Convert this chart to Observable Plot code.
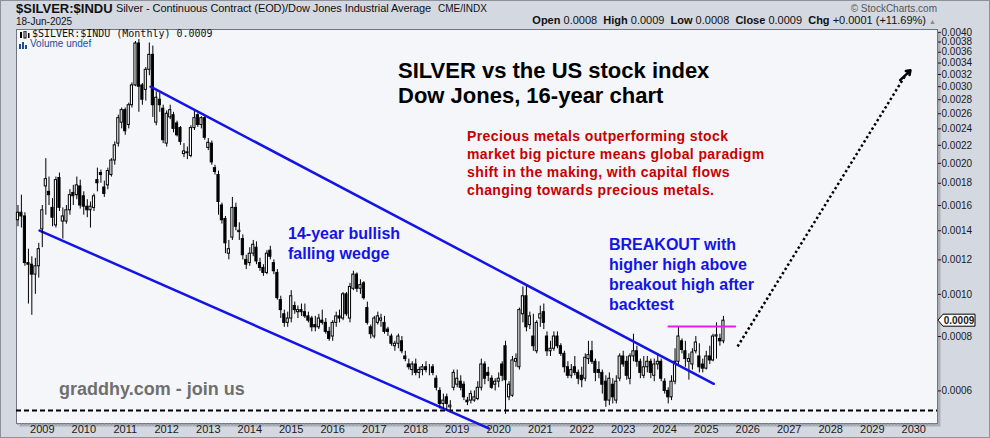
<!DOCTYPE html>
<html><head><meta charset="utf-8">
<script src="https://cdn.jsdelivr.net/npm/d3@7"></script>
<script src="https://cdn.jsdelivr.net/npm/@observablehq/plot@0.6"></script>
<style>
body{margin:0;background:#d3d8e1;}
#wrap{position:relative;width:990px;height:438px;overflow:hidden;background:#d3d8e1;font-family:"Liberation Sans",Arial,sans-serif;color:#111;box-shadow:inset 0 0 0 1px #8c919a;}
#wrap > svg{position:absolute;left:0;top:0;}
.t{position:absolute;white-space:nowrap;}
</style></head><body><div id="wrap"></div>
<script>
// Monthly bars of $SILVER:$INDU, starting June 2008; values in units of 1e-5
const unit = 1e-5;
const firstYear = 2008, firstMonthIndex = 5; // June 2008
const open = [
 148,154,151,118,117,111,116,
 141,177,172,158,144,185,147,147,156,171,169,177,
 168,159,156,158,183,190,176,178,188,203,222,248,
 265,245,272,302,377,302,295,328,355,248,280,267,
 222,255,258,247,241,210,211,208,241,258,245,254,
 217,222,195,188,160,149,124,135,158,139,134,120,
 118,124,128,118,115,112,126,118,112,97,90,86,
 88,94,91,92,91,89,88,85,84,87,86,82,
 80,86,89,88,100,88,103,111,103,106,93,84,
 80,86,87,86,83,80,76,77,78,72,69,67,
 69,66,67,68,67,68,64,60,56,58,55,61,
 62,63,62,57,57,57,57.5,61,69,66,64,62,
 63,69,76,58,58.5,70,68,90,99,85,80,74,
 88,91,80,74,75,80,76,73,68,65,68,66,
 65,64,71,74,70,67,66,63,57,62,57,64,
 72,70,64,72,74,70,65,68,70,65,69,70,
 63,60,58,63,70,78,74,70,69,74,72,69,
 67.5,72,70.5,80,79,78
];
const high = [
 160,169,154,127,122,121,131,
 160,205,186,166,186,190,158,160,174,178,186,183,
 172,165,163,170,195,193,182,195,205,224,258,268,
 268,275,306,381,385,305,332,378,372,292,290,272,
 264,272,262,250,243,222,218,244,265,260,256,256,
 228,225,198,192,162,151,133,167,162,146,137,123,
 128,133,132,121,117,126,129,120,114,99,92,91,
 102,96,94,95,95,91,89,89,90,92,88,84,
 87,91,92,101,101,106,113,112,108,107,96,85,
 89,91,90,89,84,81,78,81,80,74,71,70,
 71,68,69,70,69,69,65,61,59,59,57,67,
 67,65,63,58,60,60,63,71,70,68,65,64,
 66,70,78,63,72,73,93,104,105,91,90,87,
 94,95,82,78,82,82,77,74,70,69,72,67,
 68,73,78,78,71,70,67,65,66,64,65,73,
 74,72,73,81,76,71,72,72,71,71,73,71,
 64,61,65,75,84,79,78,73,75,80,77,71,
 74,76,81,86,81,89
];
const low = [
 143,142,116,95,89.5,100,109,
 128,152,160,143,142,155,134,145,152,160,165,157,
 152,150,142,155,172,180,167,174,186,198,218,240,
 232,240,268,300,262,272,278,318,255,244,262,222,
 218,252,235,230,220,206,204,206,238,242,240,226,
 214,198,188,152,145,124,120,133,140,133,120,114,
 116,122,117,113,110,111,120,111,97,88,84,84,
 86,90,88,89,88,86,82,82,83,85,81,78,
 78,84,86,87,89,86,102,101,100,97,85,79,
 79,85,84,81,80,76,74,75,73,70,67,65,
 65,64,65,66,65,65,60,54.5,54.5,54,53.5,60,
 61,60,57,55.5,56,56.5,57,60,62,63,60.5,60,
 61,63,53,57,58,68,67,86,82,83,74,73,
 84,83,72,72,74,75,72,66,64,64,65,62,
 61,63,69,69,63,64,59,55,55.5,56,56,63,
 68,63.5,62,70,68,64,64,66,64,63,67,63,
 59,56,57,62,69,73,68,63.5,67,73,66,66,
 67,69,70,71,76,77
];
const close = [
 154,151,118,117,111,116,127,
 156,184,169,150,183,158,151,156,169,168,178,160,
 159,156,159,168,180,188,170,192,203,220,254,265,
 237,272,302,377,300,280,328,355,272,283,272,226,
 260,265,240,232,224,213,212,241,254,245,254,229,
 223,201,191,163,148,131,127,158,143,140,123,117,
 124,130,119,115,112,124,122,113,98,92,86,88,
 99,92,92,91,89,87,84,84,88,86,82,79,
 86,89,88,100,90,104,111,103,105,98,86,81,
 88,89,88,82,82,77,77,80,74,71,68,69,
 66,67,68,67,67,66,61,56,57,56,55.5,66,
 64,61,58,56.5,59,58,61,69,64,65,61,63,
 64,65,63.5,62,70.5,71,92,99,84,89,76,86,
 90,86,74,75,80,76,73,68,65,67,66,64,
 63.5,71.5,72.5,70,66,66,62,57,64,58,63,72,
 69,65,72,74,70,66,68,70,66,69,70,64,
 60,58,63,70,80,74.5,71,71,73.5,77.5,68,67.5,
 72,70.5,80,80.5,78,87
];
const yearTicks = [2009,2010,2011,2012,2013,2014,2015,2016,2017,2018,2019,2020,2021,2022,2023,2024,2025,2026,2027,2028,2029,2030];
const priceTicks = [0.0006,0.0008,0.0010,0.0012,0.0014,0.0016,0.0018,0.0020,0.0022,0.0024,0.0026,0.0028,0.0030,0.0032,0.0034,0.0036,0.0038,0.0040];
// Drawn lines (year as decimal, ratio value)
const upperWedge = [[2011.61, 0.00300], [2025.18, 0.000623]];
const lowerWedge = [[2008.935, 0.001401], [2019.76, 0.000492]];
const breakoutHigh = [[2024.09, 0.000844], [2025.70, 0.000844]];
const supportLevel = 0.000541;
const projection = [[2025.754, 0.000759], [2029.922, 0.003271]];

const dec = y => { const yr = Math.floor(y); const s = Date.UTC(yr,0,1), e = Date.UTC(yr+1,0,1); return new Date(s + (y-yr)*(e-s)); };
const day = 864e5;
const table = close.map((c, i) => {
  const date = new Date(Date.UTC(firstYear, firstMonthIndex + i, 1));
  return {date, x1: new Date(+date - 9.5*day), x2: new Date(+date + 9.5*day),
    o: open[i]*unit, h: high[i]*unit, l: low[i]*unit, c: c*unit};
});
const toPts = arr => arr.map(([t, v]) => ({t: dec(t), v}));

const plot = Plot.plot({
  width: 990, height: 438,
  marginLeft: 16, marginRight: 53, marginTop: 29, marginBottom: 15,
  style: {background: "transparent", fontFamily: "'Liberation Sans', Arial, sans-serif", fontSize: "11px", color: "#1a1a1a", overflow: "visible"},
  x: {type: "utc", domain: [new Date(Date.UTC(2008,4,19)), new Date(Date.UTC(2030,6,29))], label: null},
  y: {type: "log", domain: [0.000505, 0.00406], label: null},
  marks: [
    Plot.frame({fill: "#a9aeb8", dx: 3, dy: 3}),
    Plot.frame({fill: "#f5f6fa", stroke: "#70757f"}),
    Plot.axisX({ticks: "month", tickSize: 2, tickFormat: () => "", stroke: "#8d929b", label: null}),
    Plot.axisX(yearTicks.map(y => new Date(Date.UTC(y,0,1))), {tickSize: 0, tickPadding: 2, tickFormat: d3.utcFormat("%Y"), fontSize: 11, label: null}),
    Plot.axisY(priceTicks, {anchor: "right", tickSize: 3, tickPadding: 1, tickFormat: d3.format(".4f"), fontSize: 10, label: null}),
    Plot.ruleY([supportLevel], {stroke: "#000", strokeWidth: 2, strokeDasharray: "5,3"}),
    Plot.line(toPts(lowerWedge), {x: "t", y: "v", stroke: "#1414e6", strokeWidth: 2.5}),
    Plot.ruleX(table, {x: "date", y1: "l", y2: "h", stroke: "#000", strokeWidth: 1}),
    Plot.rect(table, {x1: "x1", x2: "x2", y1: d => Math.min(d.o, d.c), y2: d => Math.max(d.o, d.c),
      fill: d => d.c >= d.o ? "#ffffff" : "#000000", stroke: "#000", strokeWidth: 1}),
    Plot.line(toPts(upperWedge), {x: "t", y: "v", stroke: "#1414e6", strokeWidth: 2.5}),
    Plot.line(toPts(breakoutHigh), {x: "t", y: "v", stroke: "#e81ce8", strokeWidth: 2}),
    Plot.link([0], {x1: () => dec(projection[0][0]), y1: () => projection[0][1],
      x2: () => dec(projection[1][0] - 0.12), y2: () => projection[1][1]*0.975,
      stroke: "#000", strokeWidth: 2.5, strokeDasharray: "2.5,2.5"}),
    Plot.arrow([0], {x1: () => dec(projection[1][0] - 0.25), y1: () => projection[1][1]*0.95,
      x2: () => dec(projection[1][0]), y2: () => projection[1][1],
      stroke: "#000", strokeWidth: 2.5, headLength: 11, headAngle: 70})
  ]
});
const wrap = document.getElementById("wrap");
wrap.appendChild(plot);

// current value marker on the right axis
const lastClose = table[table.length-1].c;
const yy = plot.scale("y").apply(lastClose);
const svg = d3.select(plot);
const g = svg.append("g");
g.append("path").attr("d", `M938,${yy} L943,${yy-6} L975,${yy-6} L975,${yy+6} L943,${yy+6} Z`)
  .attr("fill", "#fff").attr("stroke", "#000").attr("stroke-width", 1);
g.append("text").attr("x", 959).attr("y", yy).attr("dy", "0.35em").attr("text-anchor", "middle")
  .attr("font-size", 10).attr("font-weight", "bold").attr("font-family", "'Liberation Sans', Arial, sans-serif")
  .text(d3.format(".4f")(lastClose));

const html = `
<div class="t" style="left:16px;top:2px;font-size:13px;font-weight:bold;line-height:13px;">$SILVER:$INDU</div>
<div class="t" style="left:116px;top:3px;font-size:11px;line-height:11px;letter-spacing:-0.08px;">Silver - Continuous Contract (EOD)/Dow Jones Industrial Average</div>
<div class="t" style="left:438px;top:4px;font-size:10px;line-height:10px;">CME/INDX</div>
<div class="t" style="left:16px;top:17px;font-size:10px;line-height:10px;">18-Jun-2025</div>
<div class="t" style="right:53px;top:4px;font-size:10px;line-height:10px;color:#555;">&copy; StockCharts.com</div>
<div class="t" style="right:54px;top:15px;font-size:11px;line-height:11px;"><b>Open</b> 0.0008&nbsp; <b>High</b> 0.0009&nbsp; <b>Low</b> 0.0008&nbsp; <b>Close</b> 0.0009&nbsp; <b>Chg</b> +0.0001 (+11.69%) <span style="font-size:7px;color:#888;">&#9650;</span></div>
<svg class="t" style="left:19px;top:31px;" width="11" height="8"><rect x="1" y="1" width="2" height="6" fill="#000"/><rect x="5" y="0" width="2" height="7" fill="none" stroke="#000" stroke-width="1"/><rect x="9" y="2" width="1.5" height="5" fill="#000"/></svg>
<div class="t" style="left:32px;top:29px;font-family:'DejaVu Sans Mono',monospace;font-size:10px;line-height:10px;">$SILVER:$INDU (Monthly) 0.0009</div>
<svg class="t" style="left:19px;top:41px;" width="10" height="8"><rect x="0" y="3" width="2" height="5" fill="#1c4c9c"/><rect x="3" y="1" width="2" height="7" fill="#1c4c9c"/><rect x="6" y="4" width="2" height="4" fill="#1c4c9c"/></svg>
<div class="t" style="left:30px;top:39px;font-size:10px;line-height:10px;color:#1c4c9c;">Volume undef</div>
<div class="t" style="left:398px;top:58px;font-size:22px;font-weight:bold;line-height:25px;color:#000;">SILVER vs the US stock index<br>Dow Jones, 16-year chart</div>
<div class="t" style="left:467px;top:127px;font-size:14px;font-weight:bold;line-height:18px;letter-spacing:0.4px;color:#c80000;">Precious metals outperforming stock<br>market big picture means global paradigm<br>shift in the making, with capital flows<br>changing towards precious metals.</div>
<div class="t" style="left:288px;top:224px;font-size:16px;font-weight:bold;line-height:19.5px;color:#1414e6;">14-year bullish<br>falling wedge</div>
<div class="t" style="left:609px;top:235px;font-size:16px;font-weight:bold;line-height:20px;color:#1414e6;">BREAKOUT with<br>higher high above<br>breakout high after<br>backtest</div>
<div class="t" style="left:59px;top:379px;font-size:18px;font-weight:bold;line-height:20px;color:#6f6f6f;">graddhy.com - join us</div>
`;
wrap.insertAdjacentHTML("beforeend", html);
</script>
</body></html>
